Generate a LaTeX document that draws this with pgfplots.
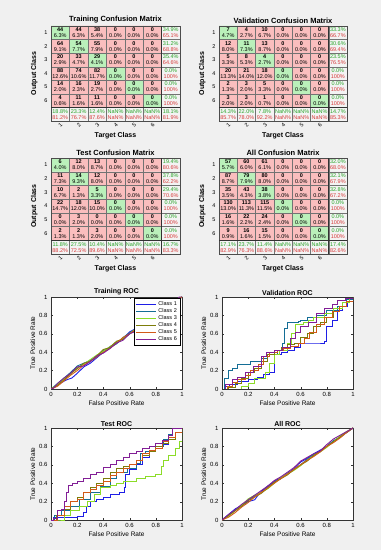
\documentclass[border=0pt]{standalone}
\usepackage{pgfplots}
\pgfplotsset{compat=1.18}
\usepackage{pgfplotstable}
\usepackage{fontspec}
\setmainfont{Liberation Sans}

\definecolor{figbg}{RGB}{240,240,240}
\definecolor{sgreen}{RGB}{40,165,40}
\definecolor{sred}{RGB}{215,60,60}
\definecolor{c1}{RGB}{30,30,230}
\definecolor{c2}{RGB}{20,110,150}
\definecolor{c3}{RGB}{140,220,40}
\definecolor{c4}{RGB}{125,125,10}
\definecolor{c5}{RGB}{210,90,25}
\definecolor{c6}{RGB}{130,30,150}

% cell label: count (bold) over percentage
\protected\def\cell#1#2{\textbf{#1}\\#2\%}
% summary label: correct % (green) over wrong % (red)
\protected\def\summ#1#2{\textcolor{sgreen}{#1\%}\\\textcolor{sred}{#2\%}}

% cell colour class: 0 wrong, 1 correct, 2 summary
\pgfplotstableread[row sep=\\]{
x y c\\
1 1 1\\ 2 1 0\\ 3 1 0\\ 4 1 0\\ 5 1 0\\ 6 1 0\\ 7 1 2\\
1 2 0\\ 2 2 1\\ 3 2 0\\ 4 2 0\\ 5 2 0\\ 6 2 0\\ 7 2 2\\
1 3 0\\ 2 3 0\\ 3 3 1\\ 4 3 0\\ 5 3 0\\ 6 3 0\\ 7 3 2\\
1 4 0\\ 2 4 0\\ 3 4 0\\ 4 4 1\\ 5 4 0\\ 6 4 0\\ 7 4 2\\
1 5 0\\ 2 5 0\\ 3 5 0\\ 4 5 0\\ 5 5 1\\ 6 5 0\\ 7 5 2\\
1 6 0\\ 2 6 0\\ 3 6 0\\ 4 6 0\\ 5 6 0\\ 6 6 1\\ 7 6 2\\
1 7 2\\ 2 7 2\\ 3 7 2\\ 4 7 2\\ 5 7 2\\ 6 7 2\\ 7 7 2\\
}\cmcol

% ---------- Training ----------
\pgfplotstableread[row sep=\\]{
x y lab\\
1 1 \cell{44}{6.3}\\ 2 1 \cell{44}{6.3}\\ 3 1 \cell{38}{5.4}\\ 4 1 \cell{0}{0.0}\\ 5 1 \cell{0}{0.0}\\ 6 1 \cell{0}{0.0}\\
1 2 \cell{64}{9.1}\\ 2 2 \cell{54}{7.7}\\ 3 2 \cell{55}{7.9}\\ 4 2 \cell{0}{0.0}\\ 5 2 \cell{0}{0.0}\\ 6 2 \cell{0}{0.0}\\
1 3 \cell{20}{2.9}\\ 2 3 \cell{33}{4.7}\\ 3 3 \cell{29}{4.1}\\ 4 3 \cell{0}{0.0}\\ 5 3 \cell{0}{0.0}\\ 6 3 \cell{0}{0.0}\\
1 4 \cell{88}{12.6}\\ 2 4 \cell{74}{10.6}\\ 3 4 \cell{82}{11.7}\\ 4 4 \cell{0}{0.0}\\ 5 4 \cell{0}{0.0}\\ 6 4 \cell{0}{0.0}\\
1 5 \cell{14}{2.0}\\ 2 5 \cell{16}{2.3}\\ 3 5 \cell{19}{2.7}\\ 4 5 \cell{0}{0.0}\\ 5 5 \cell{0}{0.0}\\ 6 5 \cell{0}{0.0}\\
1 6 \cell{4}{0.6}\\ 2 6 \cell{11}{1.6}\\ 3 6 \cell{11}{1.6}\\ 4 6 \cell{0}{0.0}\\ 5 6 \cell{0}{0.0}\\ 6 6 \cell{0}{0.0}\\
7 1 \summ{34.9}{65.1}\\ 7 2 \summ{31.2}{68.8}\\ 7 3 \summ{35.4}{64.6}\\ 7 4 \summ{0.0}{100}\\ 7 5 \summ{0.0}{100}\\ 7 6 \summ{0.0}{100}\\
1 7 \summ{18.8}{81.2}\\ 2 7 \summ{23.3}{76.7}\\ 3 7 \summ{12.4}{87.6}\\ 4 7 \summ{NaN}{NaN}\\ 5 7 \summ{NaN}{NaN}\\ 6 7 \summ{NaN}{NaN}\\ 7 7 \summ{18.1}{81.9}\\
}\trlab

% ---------- Validation ----------
\pgfplotstableread[row sep=\\]{
x y lab\\
1 1 \cell{7}{4.7}\\ 2 1 \cell{4}{2.7}\\ 3 1 \cell{10}{6.7}\\ 4 1 \cell{0}{0.0}\\ 5 1 \cell{0}{0.0}\\ 6 1 \cell{0}{0.0}\\
1 2 \cell{12}{8.0}\\ 2 2 \cell{11}{7.3}\\ 3 2 \cell{13}{8.7}\\ 4 2 \cell{0}{0.0}\\ 5 2 \cell{0}{0.0}\\ 6 2 \cell{0}{0.0}\\
1 3 \cell{5}{3.3}\\ 2 3 \cell{8}{5.3}\\ 3 3 \cell{4}{2.7}\\ 4 3 \cell{0}{0.0}\\ 5 3 \cell{0}{0.0}\\ 6 3 \cell{0}{0.0}\\
1 4 \cell{20}{13.3}\\ 2 4 \cell{21}{14.0}\\ 3 4 \cell{18}{12.0}\\ 4 4 \cell{0}{0.0}\\ 5 4 \cell{0}{0.0}\\ 6 4 \cell{0}{0.0}\\
1 5 \cell{2}{1.3}\\ 2 5 \cell{3}{2.0}\\ 3 5 \cell{5}{3.3}\\ 4 5 \cell{0}{0.0}\\ 5 5 \cell{0}{0.0}\\ 6 5 \cell{0}{0.0}\\
1 6 \cell{3}{2.0}\\ 2 6 \cell{3}{2.0}\\ 3 6 \cell{1}{0.7}\\ 4 6 \cell{0}{0.0}\\ 5 6 \cell{0}{0.0}\\ 6 6 \cell{0}{0.0}\\
7 1 \summ{33.3}{66.7}\\ 7 2 \summ{30.6}{69.4}\\ 7 3 \summ{23.5}{76.5}\\ 7 4 \summ{0.0}{100}\\ 7 5 \summ{0.0}{100}\\ 7 6 \summ{0.0}{100}\\
1 7 \summ{14.3}{85.7}\\ 2 7 \summ{22.0}{78.0}\\ 3 7 \summ{7.8}{92.2}\\ 4 7 \summ{NaN}{NaN}\\ 5 7 \summ{NaN}{NaN}\\ 6 7 \summ{NaN}{NaN}\\ 7 7 \summ{14.7}{85.3}\\
}\valab

% ---------- Test ----------
\pgfplotstableread[row sep=\\]{
x y lab\\
1 1 \cell{6}{4.0}\\ 2 1 \cell{12}{8.0}\\ 3 1 \cell{13}{8.7}\\ 4 1 \cell{0}{0.0}\\ 5 1 \cell{0}{0.0}\\ 6 1 \cell{0}{0.0}\\
1 2 \cell{11}{7.3}\\ 2 2 \cell{14}{9.3}\\ 3 2 \cell{12}{8.0}\\ 4 2 \cell{0}{0.0}\\ 5 2 \cell{0}{0.0}\\ 6 2 \cell{0}{0.0}\\
1 3 \cell{10}{6.7}\\ 2 3 \cell{2}{1.3}\\ 3 3 \cell{5}{3.3}\\ 4 3 \cell{0}{0.0}\\ 5 3 \cell{0}{0.0}\\ 6 3 \cell{0}{0.0}\\
1 4 \cell{22}{14.7}\\ 2 4 \cell{18}{12.0}\\ 3 4 \cell{15}{10.0}\\ 4 4 \cell{0}{0.0}\\ 5 4 \cell{0}{0.0}\\ 6 4 \cell{0}{0.0}\\
1 5 \cell{0}{0.0}\\ 2 5 \cell{3}{2.0}\\ 3 5 \cell{0}{0.0}\\ 4 5 \cell{0}{0.0}\\ 5 5 \cell{0}{0.0}\\ 6 5 \cell{0}{0.0}\\
1 6 \cell{2}{1.3}\\ 2 6 \cell{2}{1.3}\\ 3 6 \cell{3}{2.0}\\ 4 6 \cell{0}{0.0}\\ 5 6 \cell{0}{0.0}\\ 6 6 \cell{0}{0.0}\\
7 1 \summ{19.4}{80.6}\\ 7 2 \summ{37.8}{62.2}\\ 7 3 \summ{29.4}{70.6}\\ 7 4 \summ{0.0}{100}\\ 7 5 \summ{0.0}{100}\\ 7 6 \summ{0.0}{100}\\
1 7 \summ{11.8}{88.2}\\ 2 7 \summ{27.5}{72.5}\\ 3 7 \summ{10.4}{89.6}\\ 4 7 \summ{NaN}{NaN}\\ 5 7 \summ{NaN}{NaN}\\ 6 7 \summ{NaN}{NaN}\\ 7 7 \summ{16.7}{83.3}\\
}\telab

% ---------- All ----------
\pgfplotstableread[row sep=\\]{
x y lab\\
1 1 \cell{57}{5.7}\\ 2 1 \cell{60}{6.0}\\ 3 1 \cell{61}{6.1}\\ 4 1 \cell{0}{0.0}\\ 5 1 \cell{0}{0.0}\\ 6 1 \cell{0}{0.0}\\
1 2 \cell{87}{8.7}\\ 2 2 \cell{79}{7.9}\\ 3 2 \cell{80}{8.0}\\ 4 2 \cell{0}{0.0}\\ 5 2 \cell{0}{0.0}\\ 6 2 \cell{0}{0.0}\\
1 3 \cell{35}{3.5}\\ 2 3 \cell{43}{4.3}\\ 3 3 \cell{38}{3.8}\\ 4 3 \cell{0}{0.0}\\ 5 3 \cell{0}{0.0}\\ 6 3 \cell{0}{0.0}\\
1 4 \cell{130}{13.0}\\ 2 4 \cell{113}{11.3}\\ 3 4 \cell{115}{11.5}\\ 4 4 \cell{0}{0.0}\\ 5 4 \cell{0}{0.0}\\ 6 4 \cell{0}{0.0}\\
1 5 \cell{16}{1.6}\\ 2 5 \cell{22}{2.2}\\ 3 5 \cell{24}{2.4}\\ 4 5 \cell{0}{0.0}\\ 5 5 \cell{0}{0.0}\\ 6 5 \cell{0}{0.0}\\
1 6 \cell{9}{0.9}\\ 2 6 \cell{16}{1.6}\\ 3 6 \cell{15}{1.5}\\ 4 6 \cell{0}{0.0}\\ 5 6 \cell{0}{0.0}\\ 6 6 \cell{0}{0.0}\\
7 1 \summ{32.0}{68.0}\\ 7 2 \summ{32.1}{67.9}\\ 7 3 \summ{32.8}{67.2}\\ 7 4 \summ{0.0}{100}\\ 7 5 \summ{0.0}{100}\\ 7 6 \summ{0.0}{100}\\
1 7 \summ{17.1}{82.9}\\ 2 7 \summ{23.7}{76.3}\\ 3 7 \summ{11.4}{88.6}\\ 4 7 \summ{NaN}{NaN}\\ 5 7 \summ{NaN}{NaN}\\ 6 7 \summ{NaN}{NaN}\\ 7 7 \summ{17.4}{82.6}\\
}\allab

\pgfplotsset{
  /pgf/number format/assume math mode=true,
  cmaxis/.style={
    scale only axis, width=129pt, height=95pt,
    xmin=0.5, xmax=7.5, ymin=0.5, ymax=7.5, y dir=reverse,
    axis on top,
    axis line style={black!70},
    xtick={1,...,6}, ytick={1,...,6},
    major tick length=0pt, minor tick length=0pt,
    minor xtick={0.5,1.5,...,7.5}, minor ytick={0.5,1.5,...,7.5},
    xminorgrids, yminorgrids,
    minor grid style={black!55, line width=0.4pt},
    extra x ticks={6.5}, extra y ticks={6.5},
    extra x tick labels={}, extra y tick labels={},
    extra tick style={grid=major, major grid style={black!80, line width=1pt}},
    colormap={cmcolors}{rgb255=(250,190,190) rgb255=(186,240,186) rgb255=(243,243,243)},
    colormap access=direct,
    title style={font=\bfseries\fontsize{7.5}{8}\selectfont, yshift=-7pt},
    xlabel={Target Class}, ylabel={Output Class},
    label style={font=\bfseries\fontsize{7}{8}\selectfont},
    ticklabel style={font=\fontsize{5.5}{6}\selectfont},
    xticklabel style={rotate=45, anchor=north east, inner sep=1pt},
    xlabel style={yshift=0pt},
  },
  cellnodes/.style={only marks, mark=*, mark size=0pt, mark options={draw=none, fill=none},
    point meta=explicit symbolic,
    nodes near coords,
    nodes near coords style={font=\fontsize{5.5}{6}\selectfont, align=center, anchor=center, inner sep=0pt, text=black}},
  rocaxis/.style={
    scale only axis, width=131pt, height=92pt,
    xmin=0, xmax=1, ymin=0, ymax=1,
    xtick={0,0.2,0.4,0.6,0.8,1}, ytick={0,0.2,0.4,0.6,0.8,1},
    tick align=inside, major tick length=2pt,
    axis background/.style={fill=white},
    axis line style={black!80}, tick style={black!80},
    title style={font=\bfseries\fontsize{7}{8}\selectfont, yshift=-8pt},
    xlabel={False Positive Rate}, ylabel={True Positive Rate},
    label style={font=\fontsize{6.5}{7}\selectfont},
    ticklabel style={font=\fontsize{6}{7}\selectfont},
    xlabel style={yshift=3pt}, ylabel style={yshift=-3pt},
    every axis plot/.append style={line width=0.9pt},
  },
}

\begin{document}
\begin{tikzpicture}
\fill[figbg] (0,0) rectangle (381pt,550pt);

% ===== Training confusion =====
\begin{axis}[cmaxis, at={(51pt,524pt)}, anchor=north west, title={Training Confusion Matrix}]
\addplot[matrix plot*, mesh/cols=7, point meta=explicit] table[x=x,y=y,meta=c]{\cmcol};
\addplot[cellnodes] table[x=x,y=y,meta=lab]{\trlab};
\end{axis}

% ===== Validation confusion =====
\begin{axis}[cmaxis, width=128pt, at={(219pt,524pt)}, anchor=north west, title={Validation Confusion Matrix}]
\addplot[matrix plot*, mesh/cols=7, point meta=explicit] table[x=x,y=y,meta=c]{\cmcol};
\addplot[cellnodes] table[x=x,y=y,meta=lab]{\valab};
\end{axis}

% ===== Test confusion =====
\begin{axis}[cmaxis, height=96pt, at={(51pt,392pt)}, anchor=north west, title={Test Confusion Matrix}]
\addplot[matrix plot*, mesh/cols=7, point meta=explicit] table[x=x,y=y,meta=c]{\cmcol};
\addplot[cellnodes] table[x=x,y=y,meta=lab]{\telab};
\end{axis}

% ===== All confusion =====
\begin{axis}[cmaxis, width=128pt, height=96pt, at={(219pt,392pt)}, anchor=north west, title={All Confusion Matrix}]
\addplot[matrix plot*, mesh/cols=7, point meta=explicit] table[x=x,y=y,meta=c]{\cmcol};
\addplot[cellnodes] table[x=x,y=y,meta=lab]{\allab};
\end{axis}

% ===== Training ROC =====
\begin{axis}[rocaxis, at={(51pt,253pt)}, anchor=north west, title={Training ROC},
  legend style={at={(0.985,0.985)}, anchor=north east, font=\fontsize{5.5}{6}\selectfont, draw=black, fill=white, inner sep=1pt, row sep=-2.5pt, cells={anchor=west}},
  legend image code/.code={\draw[#1, line width=1.4pt] (0pt,0pt) -- (20pt,0pt);}]
\addplot[c1] coordinates {(0,0)(0.03,0.02)(0.08,0.07)(0.12,0.1)(0.16,0.12)(0.2,0.17)(0.25,0.24)(0.3,0.28)(0.35,0.34)(0.4,0.4)(0.45,0.46)(0.5,0.5)(0.55,0.55)(0.6,0.62)(0.65,0.66)(0.7,0.7)(0.75,0.74)(0.8,0.8)(0.85,0.86)(0.9,0.9)(0.95,0.95)(1,1)};
\addplot[c2] coordinates {(0,0)(0.05,0.06)(0.1,0.12)(0.15,0.18)(0.2,0.25)(0.25,0.28)(0.3,0.31)(0.35,0.35)(0.4,0.42)(0.45,0.45)(0.5,0.49)(0.55,0.56)(0.6,0.61)(0.65,0.65)(0.7,0.71)(0.75,0.76)(0.8,0.79)(0.85,0.85)(0.9,0.91)(0.95,0.96)(1,1)};
\addplot[c3] coordinates {(0,0)(0.05,0.05)(0.1,0.11)(0.15,0.16)(0.2,0.23)(0.25,0.27)(0.3,0.32)(0.35,0.37)(0.4,0.41)(0.45,0.46)(0.5,0.51)(0.55,0.55)(0.6,0.6)(0.65,0.66)(0.7,0.7)(0.75,0.75)(0.8,0.81)(0.85,0.86)(0.9,0.9)(0.95,0.95)(1,1)};
\addplot[c4] coordinates {(0,0)(0.05,0.04)(0.1,0.1)(0.15,0.17)(0.2,0.22)(0.25,0.28)(0.3,0.3)(0.35,0.36)(0.4,0.43)(0.45,0.45)(0.5,0.52)(0.55,0.54)(0.6,0.6)(0.65,0.64)(0.7,0.69)(0.75,0.76)(0.8,0.8)(0.85,0.84)(0.9,0.91)(0.95,0.97)(1,1)};
\addplot[c5] coordinates {(0,0)(0.05,0.03)(0.1,0.09)(0.15,0.15)(0.2,0.2)(0.25,0.26)(0.3,0.3)(0.35,0.35)(0.4,0.4)(0.45,0.44)(0.5,0.5)(0.55,0.56)(0.6,0.6)(0.65,0.65)(0.7,0.7)(0.75,0.74)(0.8,0.79)(0.85,0.85)(0.9,0.89)(0.95,0.94)(1,1)};
\addplot[c6] coordinates {(0,0)(0.02,0.01)(0.05,0.06)(0.1,0.12)(0.15,0.17)(0.2,0.24)(0.25,0.25)(0.3,0.3)(0.35,0.36)(0.4,0.39)(0.45,0.44)(0.5,0.5)(0.55,0.53)(0.6,0.6)(0.65,0.63)(0.7,0.7)(0.75,0.75)(0.8,0.8)(0.85,0.85)(0.9,0.92)(0.95,0.96)(0.98,1)(1,1)};
\legend{Class 1,Class 2,Class 3,Class 4,Class 5,Class 6}
\end{axis}

% ===== Validation ROC =====
\begin{axis}[rocaxis, at={(222pt,253pt)}, anchor=north west, title={Validation ROC}]
\addplot[c1, const plot] coordinates {(0,0)(0.02,0.03)(0.06,0.05)(0.12,0.08)(0.2,0.1)(0.27,0.13)(0.32,0.16)(0.36,0.18)(0.4,0.38)(0.45,0.4)(0.5,0.42)(0.55,0.45)(0.6,0.5)(0.66,0.5)(0.72,0.5)(0.78,0.52)(0.8,0.68)(0.84,0.75)(0.88,0.85)(0.92,0.9)(0.96,0.95)(1,1)};
\addplot[c2, const plot] coordinates {(0,0)(0.02,0.12)(0.05,0.2)(0.08,0.22)(0.12,0.27)(0.2,0.27)(0.22,0.3)(0.3,0.33)(0.35,0.38)(0.42,0.42)(0.46,0.5)(0.48,0.66)(0.5,0.72)(0.58,0.73)(0.6,0.75)(0.65,0.78)(0.72,0.8)(0.8,0.85)(0.88,0.9)(0.95,0.97)(1,1)};
\addplot[c3, const plot] coordinates {(0,0)(0.1,0)(0.15,0.03)(0.2,0.06)(0.25,0.12)(0.33,0.18)(0.36,0.28)(0.4,0.38)(0.44,0.42)(0.5,0.5)(0.53,0.6)(0.56,0.7)(0.62,0.72)(0.66,0.75)(0.7,0.78)(0.78,0.82)(0.85,0.88)(0.92,0.94)(0.97,0.98)(1,1)};
\addplot[c4, const plot] coordinates {(0,0)(0.05,0.02)(0.1,0.06)(0.15,0.12)(0.2,0.18)(0.25,0.22)(0.3,0.3)(0.35,0.38)(0.4,0.42)(0.45,0.45)(0.5,0.48)(0.55,0.5)(0.6,0.56)(0.65,0.6)(0.7,0.68)(0.75,0.72)(0.8,0.78)(0.85,0.84)(0.9,0.9)(0.95,0.95)(1,1)};
\addplot[c5, const plot] coordinates {(0,0)(0.04,0.03)(0.08,0.07)(0.12,0.1)(0.18,0.15)(0.22,0.2)(0.28,0.27)(0.32,0.35)(0.36,0.4)(0.42,0.42)(0.47,0.44)(0.52,0.46)(0.58,0.5)(0.63,0.55)(0.67,0.62)(0.72,0.7)(0.78,0.78)(0.84,0.84)(0.9,0.9)(0.95,0.95)(1,1)};
\addplot[c6, const plot] coordinates {(0,0)(0.03,0.05)(0.08,0.1)(0.12,0.13)(0.18,0.18)(0.24,0.25)(0.3,0.35)(0.34,0.4)(0.4,0.42)(0.46,0.45)(0.52,0.55)(0.56,0.62)(0.6,0.68)(0.66,0.72)(0.72,0.82)(0.78,0.88)(0.84,0.92)(0.88,0.96)(0.94,0.98)(1,1)};
\end{axis}

% ===== Test ROC =====
\begin{axis}[rocaxis, at={(51pt,122pt)}, anchor=north west, title={Test ROC}]
\addplot[c1, const plot] coordinates {(0,0)(0.02,0.03)(0.1,0.03)(0.2,0.04)(0.25,0.08)(0.27,0.15)(0.3,0.2)(0.35,0.22)(0.4,0.25)(0.45,0.28)(0.52,0.3)(0.56,0.35)(0.57,0.5)(0.6,0.55)(0.65,0.6)(0.7,0.68)(0.75,0.75)(0.8,0.78)(0.85,0.82)(0.9,0.88)(0.95,0.95)(1,1)};
\addplot[c2, const plot] coordinates {(0,0)(0.03,0.05)(0.08,0.1)(0.15,0.15)(0.22,0.22)(0.3,0.3)(0.38,0.36)(0.45,0.45)(0.5,0.52)(0.58,0.56)(0.65,0.62)(0.68,0.72)(0.72,0.75)(0.8,0.8)(0.86,0.88)(0.9,0.93)(0.93,1)(1,1)};
\addplot[c3, const plot] coordinates {(0,0)(0.05,0)(0.1,0.05)(0.15,0.1)(0.22,0.15)(0.28,0.2)(0.33,0.28)(0.38,0.35)(0.45,0.38)(0.5,0.4)(0.55,0.42)(0.6,0.42)(0.65,0.45)(0.72,0.47)(0.8,0.5)(0.84,0.58)(0.86,0.65)(0.9,0.7)(0.95,0.78)(0.98,0.85)(1,1)};
\addplot[c4, const plot] coordinates {(0,0)(0.04,0.05)(0.1,0.12)(0.15,0.2)(0.2,0.25)(0.25,0.3)(0.3,0.35)(0.35,0.4)(0.4,0.45)(0.45,0.52)(0.5,0.56)(0.55,0.58)(0.6,0.6)(0.65,0.65)(0.7,0.7)(0.75,0.75)(0.8,0.8)(0.85,0.83)(0.9,0.88)(0.95,0.95)(1,1)};
\addplot[c5, const plot] coordinates {(0,0)(0.05,0.05)(0.1,0.15)(0.15,0.2)(0.2,0.22)(0.25,0.3)(0.3,0.33)(0.35,0.38)(0.4,0.42)(0.45,0.48)(0.5,0.52)(0.55,0.56)(0.6,0.6)(0.65,0.65)(0.7,0.72)(0.75,0.76)(0.8,0.78)(0.85,0.85)(0.9,0.9)(0.95,0.95)(1,1)};
\addplot[c6, const plot] coordinates {(0,0)(0.02,0.02)(0.05,0.1)(0.08,0.12)(0.1,0.2)(0.12,0.3)(0.13,0.38)(0.16,0.4)(0.2,0.42)(0.25,0.45)(0.3,0.5)(0.35,0.52)(0.4,0.57)(0.45,0.6)(0.5,0.65)(0.55,0.68)(0.6,0.72)(0.65,0.75)(0.7,0.78)(0.75,0.8)(0.8,0.83)(0.85,0.87)(0.9,0.92)(0.93,1)(1,1)};
\end{axis}

% ===== All ROC =====
\begin{axis}[rocaxis, at={(222pt,122pt)}, anchor=north west, title={All ROC}]
\addplot[c1] coordinates {(0,0)(0.05,0.06)(0.1,0.12)(0.15,0.16)(0.2,0.2)(0.25,0.22)(0.28,0.28)(0.3,0.31)(0.35,0.37)(0.4,0.42)(0.45,0.46)(0.5,0.5)(0.55,0.56)(0.6,0.63)(0.65,0.67)(0.7,0.72)(0.75,0.76)(0.8,0.8)(0.85,0.86)(0.9,0.9)(0.95,0.95)(1,1)};
\addplot[c2] coordinates {(0,0)(0.05,0.05)(0.1,0.11)(0.15,0.15)(0.2,0.22)(0.25,0.26)(0.3,0.3)(0.35,0.36)(0.4,0.41)(0.45,0.45)(0.5,0.51)(0.55,0.55)(0.6,0.6)(0.65,0.66)(0.7,0.71)(0.75,0.75)(0.8,0.8)(0.85,0.86)(0.9,0.9)(0.95,0.95)(1,1)};
\addplot[c3] coordinates {(0,0)(0.05,0.04)(0.1,0.1)(0.15,0.16)(0.2,0.23)(0.25,0.27)(0.3,0.3)(0.35,0.34)(0.4,0.4)(0.45,0.46)(0.5,0.5)(0.55,0.54)(0.6,0.59)(0.65,0.65)(0.7,0.7)(0.75,0.74)(0.8,0.79)(0.85,0.85)(0.9,0.91)(0.95,0.96)(1,1)};
\addplot[c4] coordinates {(0,0)(0.05,0.05)(0.1,0.1)(0.15,0.15)(0.2,0.21)(0.25,0.25)(0.3,0.29)(0.35,0.35)(0.4,0.41)(0.45,0.45)(0.5,0.49)(0.55,0.55)(0.6,0.6)(0.65,0.64)(0.7,0.7)(0.75,0.75)(0.8,0.8)(0.85,0.85)(0.9,0.9)(0.95,0.95)(1,1)};
\addplot[c5] coordinates {(0,0)(0.05,0.03)(0.1,0.08)(0.15,0.14)(0.2,0.19)(0.25,0.25)(0.3,0.3)(0.35,0.35)(0.4,0.4)(0.45,0.45)(0.5,0.5)(0.55,0.55)(0.6,0.6)(0.65,0.65)(0.7,0.69)(0.75,0.74)(0.8,0.8)(0.85,0.84)(0.9,0.89)(0.95,0.95)(1,1)};
\addplot[c6] coordinates {(0,0)(0.05,0.06)(0.1,0.11)(0.15,0.17)(0.2,0.22)(0.25,0.27)(0.3,0.32)(0.35,0.37)(0.4,0.43)(0.45,0.47)(0.5,0.52)(0.55,0.57)(0.6,0.64)(0.65,0.68)(0.7,0.72)(0.75,0.75)(0.8,0.82)(0.85,0.88)(0.9,0.92)(0.95,0.96)(1,1)};
\end{axis}
\end{tikzpicture}
\end{document}
